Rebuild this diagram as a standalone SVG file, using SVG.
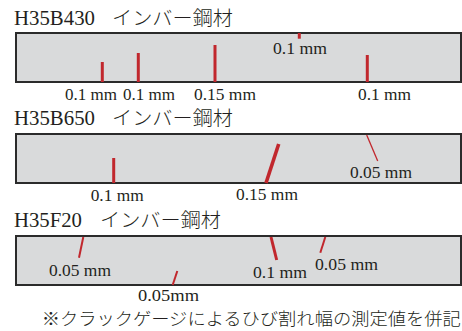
<svg xmlns="http://www.w3.org/2000/svg" width="462" height="331" viewBox="0 0 462 331">
<style>
.bg{fill:#ffffff}
.panel{fill:#d9dadb;stroke:#2b2b2b;stroke-width:2}
.crack{stroke:#c1272d;fill:none;stroke-linecap:butt}
.w3{stroke-width:3}
.w4{stroke-width:3.6}
.w2{stroke-width:2}
.w1{stroke-width:1.3}
.t{font-family:"Liberation Serif","Noto Sans CJK JP",serif;fill:#231f20}
.title{font-size:20px}
.jp{font-family:"Noto Sans CJK JP",sans-serif;font-size:19px;font-weight:300;fill:#231f20}
.lbl{font-size:17.5px}
</style>
<rect class="bg" width="462" height="331"/>
<g id="title1"><text class="t title" x="14" y="25" textLength="81" lengthAdjust="spacingAndGlyphs">H35B430</text><text class="jp" x="112" y="25" textLength="121" lengthAdjust="spacingAndGlyphs">インバー鋼材</text></g>
<g id="panel1">
<rect class="panel" x="16" y="33" width="445" height="49"/>
</g>
<g id="title2"><text class="t title" x="14" y="125" textLength="81" lengthAdjust="spacingAndGlyphs">H35B650</text><text class="jp" x="112" y="125" textLength="121" lengthAdjust="spacingAndGlyphs">インバー鋼材</text></g>
<g id="panel2">
<rect class="panel" x="16" y="134" width="445" height="49"/>
</g>
<g id="title3"><text class="t title" x="14" y="227" textLength="68" lengthAdjust="spacingAndGlyphs">H35F20</text><text class="jp" x="100" y="227" textLength="121" lengthAdjust="spacingAndGlyphs">インバー鋼材</text></g>
<g id="panel3">
<rect class="panel" x="16" y="236" width="445" height="49"/>
</g>
<g id="connectors">
<line class="crack w3" x1="102.3" y1="62" x2="102.3" y2="82"/>
<line class="crack w3" x1="138.3" y1="53" x2="138.3" y2="82"/>
<line class="crack w3" x1="215" y1="45" x2="215" y2="82"/>
<line class="crack w3" x1="299.3" y1="33" x2="299.3" y2="38.7"/>
<line class="crack w3" x1="367.3" y1="55" x2="367.3" y2="82"/>
<line class="crack w3" x1="113.7" y1="158" x2="113.7" y2="183"/>
<line class="crack w4" x1="278.7" y1="144" x2="266" y2="183"/>
<line class="crack w1" x1="366.7" y1="135" x2="377.7" y2="161"/>
<line class="crack w2" x1="83.3" y1="237" x2="79" y2="257.7"/>
<line class="crack w2" x1="177.3" y1="271" x2="172.7" y2="285"/>
<line class="crack w3" x1="271" y1="237" x2="276.7" y2="260"/>
<line class="crack w2" x1="325.3" y1="237" x2="320.3" y2="252.7"/>
</g>
<g id="labels">
<text class="t lbl" x="65" y="99.5" textLength="52" lengthAdjust="spacingAndGlyphs">0.1 mm</text>
<text class="t lbl" x="123" y="99.5" textLength="52" lengthAdjust="spacingAndGlyphs">0.1 mm</text>
<text class="t lbl" x="194" y="99.5" textLength="62" lengthAdjust="spacingAndGlyphs">0.15 mm</text>
<text class="t lbl" x="273" y="54" textLength="54" lengthAdjust="spacingAndGlyphs">0.1 mm</text>
<text class="t lbl" x="358" y="99.5" textLength="53" lengthAdjust="spacingAndGlyphs">0.1 mm</text>
<text class="t lbl" x="90.7" y="201" textLength="53" lengthAdjust="spacingAndGlyphs">0.1 mm</text>
<text class="t lbl" x="236" y="200" textLength="62" lengthAdjust="spacingAndGlyphs">0.15 mm</text>
<text class="t lbl" x="350" y="178" textLength="62" lengthAdjust="spacingAndGlyphs">0.05 mm</text>
<text class="t lbl" x="49" y="275.7" textLength="62" lengthAdjust="spacingAndGlyphs">0.05 mm</text>
<text class="t lbl" x="138" y="301" textLength="61" lengthAdjust="spacingAndGlyphs">0.05mm</text>
<text class="t lbl" x="253" y="278.3" textLength="54" lengthAdjust="spacingAndGlyphs">0.1 mm</text>
<text class="t lbl" x="315" y="270" textLength="63" lengthAdjust="spacingAndGlyphs">0.05 mm</text>
</g>
<g id="note"><text class="jp" x="41.7" y="325" style="font-size:17.5px" textLength="419" lengthAdjust="spacingAndGlyphs">※クラックゲージによるひび割れ幅の測定値を併記</text></g>
</svg>
